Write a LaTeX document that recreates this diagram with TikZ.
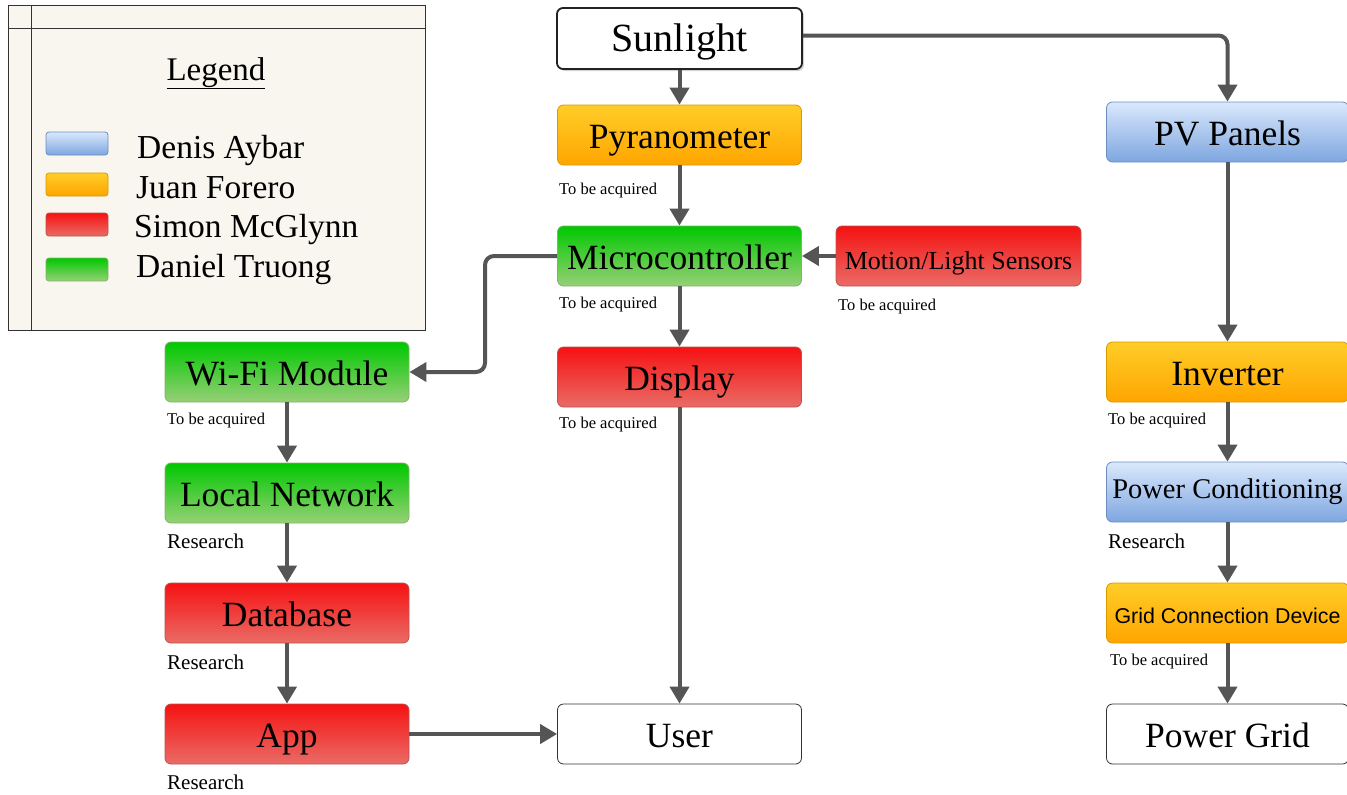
\documentclass[tikz,border=0pt]{standalone}
\usepackage{fontspec}
\setmainfont{Liberation Serif}
\newfontfamily\arialf{Liberation Sans}
\usetikzlibrary{arrows.meta,shadows,calc}
\definecolor{arrc}{RGB}{85,85,85}
\definecolor{ortop}{RGB}{255,205,40}\definecolor{orbot}{RGB}{255,165,0}\definecolor{orbd}{RGB}{215,155,0}
\definecolor{grtop}{RGB}{0,200,0}\definecolor{grbot}{RGB}{151,208,119}\definecolor{grbd}{RGB}{130,179,102}
\definecolor{rdtop}{RGB}{245,18,18}\definecolor{rdbot}{RGB}{234,107,102}\definecolor{rdbd}{RGB}{184,84,80}
\definecolor{bltop}{RGB}{218,232,252}\definecolor{blbot}{RGB}{126,166,224}\definecolor{blbd}{RGB}{108,142,191}
\definecolor{legbg}{RGB}{248,246,238}
\definecolor{dk}{RGB}{51,51,51}
\definecolor{dk2}{RGB}{34,34,34}
\tikzset{
  box/.style={rounded corners=6pt, minimum width=244pt, minimum height=60pt, inner sep=0pt, line width=0.8pt, font=\fontsize{35.5}{40}\selectfont, text height=33.5pt, text depth=7pt},
  orbox/.style={box, draw=orbd, top color=ortop, bottom color=orbot},
  grbox/.style={box, draw=grbd, top color=grtop, bottom color=grbot},
  rdbox/.style={box, draw=rdbd, top color=rdtop, bottom color=rdbot},
  blbox/.style={box, draw=blbd, top color=bltop, bottom color=blbot},
  whbox/.style={box, draw=dk, fill=white},
  swatch/.style={rounded corners=3pt, minimum width=62pt, minimum height=23pt, inner sep=0pt, line width=0.8pt},
  note/.style={anchor=base west, inner sep=0pt, font=\fontsize{16.5}{18}\selectfont},
  rnote/.style={anchor=base west, inner sep=0pt, font=\fontsize{21}{24}\selectfont},
  legtext/.style={anchor=base west, inner sep=0pt, font=\fontsize{33.5}{36}\selectfont},
  arr/.style={draw=arrc, line width=4pt, -{Triangle[length=17pt,width=19pt]}},
}
\begin{document}
\begin{tikzpicture}[x=1pt,y=-1pt]
\useasboundingbox (0,0) rectangle (1347,795);
% legend
\node[draw=dk, fill=legbg, line width=1pt, minimum width=417pt, minimum height=325pt, inner sep=0pt] (legend) at (216.5,167.5) {};
\coordinate (lh) at (0,28);
\coordinate (lv) at (31,0);
\draw[dk, line width=1pt] (legend.west |- lh) -- (legend.east |- lh);
\draw[dk, line width=1pt] (legend.north -| lv) -- (legend.south -| lv);
\node[anchor=base, inner sep=0pt, font=\fontsize{33}{36}\selectfont] (legt) at (216,80) {\underline{Legend}};
\node[swatch, draw=blbd, top color=bltop, bottom color=blbot] (s1) at (77,143.5) {};
\node[swatch, draw=orbd, top color=ortop, bottom color=orbot] (s2) at (77,184.5) {};
\node[swatch, draw=rdbd, top color=rdtop, bottom color=rdbot] (s3) at (77,224.5) {};
\node[swatch, draw=grbd, top color=grtop, bottom color=grbot] (s4) at (77,269.5) {};
\node[legtext] (l1) at (137,158) {Denis Aybar};
\node[legtext] (l2) at (136,198) {Juan Forero};
\node[legtext] (l3) at (134,237) {Simon McGlynn};
\node[legtext] (l4) at (136,277) {Daniel Truong};
% nodes
\node[whbox, draw=dk2, line width=1.8pt, minimum width=245pt, minimum height=61pt, drop shadow={opacity=0.35, shadow xshift=2pt, shadow yshift=-2pt}, font=\fontsize{40}{44}\selectfont, text height=34pt, text depth=7.5pt] (sun) at (679.5,38.5) {Sunlight};
\node[orbox] (pyr) at (679.5,135) {Pyranometer};
\node[grbox] (mcu) at (679.5,256) {Microcontroller};
\node[rdbox, font=\fontsize{26}{30}\selectfont, minimum width=245pt, text height=32pt, text depth=4.8pt] (mot) at (958.5,256) {Motion/Light Sensors};
\node[rdbox] (disp) at (679.5,377) {Display};
\node[whbox] (user) at (679.5,734) {User};
\node[grbox] (wifi) at (287,372) {Wi-Fi Module};
\node[grbox] (lan) at (287,493) {Local Network};
\node[rdbox] (db) at (287,613) {Database};
\node[rdbox] (app) at (287,734) {App};
\node[blbox, minimum width=242pt] (pv) at (1227.5,132) {PV Panels};
\node[orbox, minimum width=242pt] (inv) at (1227.5,372) {Inverter};
\node[blbox, minimum width=242pt, font=\fontsize{28.5}{32}\selectfont, text height=18pt, text depth=6pt] (pc) at (1227.5,492) {Power Conditioning};
\node[orbox, minimum width=242pt, font=\arialf\fontsize{21.4}{24}\selectfont, text height=24pt, text depth=4pt] (gcd) at (1227.5,613) {Grid Connection Device};
\node[whbox, minimum width=242pt] (pg) at (1227.5,734) {Power Grid};
% notes
\node[note] (n1) at (559,194) {To be acquired};
\node[note] (n2) at (559,308) {To be acquired};
\node[note] (n3) at (838,310) {To be acquired};
\node[note] (n4) at (559,428) {To be acquired};
\node[note] (n5) at (167,424) {To be acquired};
\node[rnote] (n6) at (167,548) {Research};
\node[rnote] (n7) at (167,669) {Research};
\node[rnote] (n8) at (167,789) {Research};
\node[note] (n9) at (1108,424) {To be acquired};
\node[rnote] (n10) at (1108,548) {Research};
\node[note] (n11) at (1110,665) {To be acquired};
% connectors
\draw[arr] (sun) -- (pyr);
\draw[arr, rounded corners=9pt] ([yshift=3pt]sun.east) -| (pv.north);
\draw[arr] (pyr) -- (mcu);
\draw[arr] (mcu) -- (disp);
\draw[arr] (mot) -- (mcu);
\coordinate (k1) at (485,256);
\draw[arr, rounded corners=9pt] (mcu.west) -- (k1) |- (wifi.east);
\draw[arr] (disp) -- (user);
\draw[arr] (wifi) -- (lan);
\draw[arr] (lan) -- (db);
\draw[arr] (db) -- (app);
\draw[arr] (app) -- (user);
\draw[arr] (pv) -- (inv);
\draw[arr] (inv) -- (pc);
\draw[arr] (pc) -- (gcd);
\draw[arr] (gcd) -- (pg);
\end{tikzpicture}
\end{document}
